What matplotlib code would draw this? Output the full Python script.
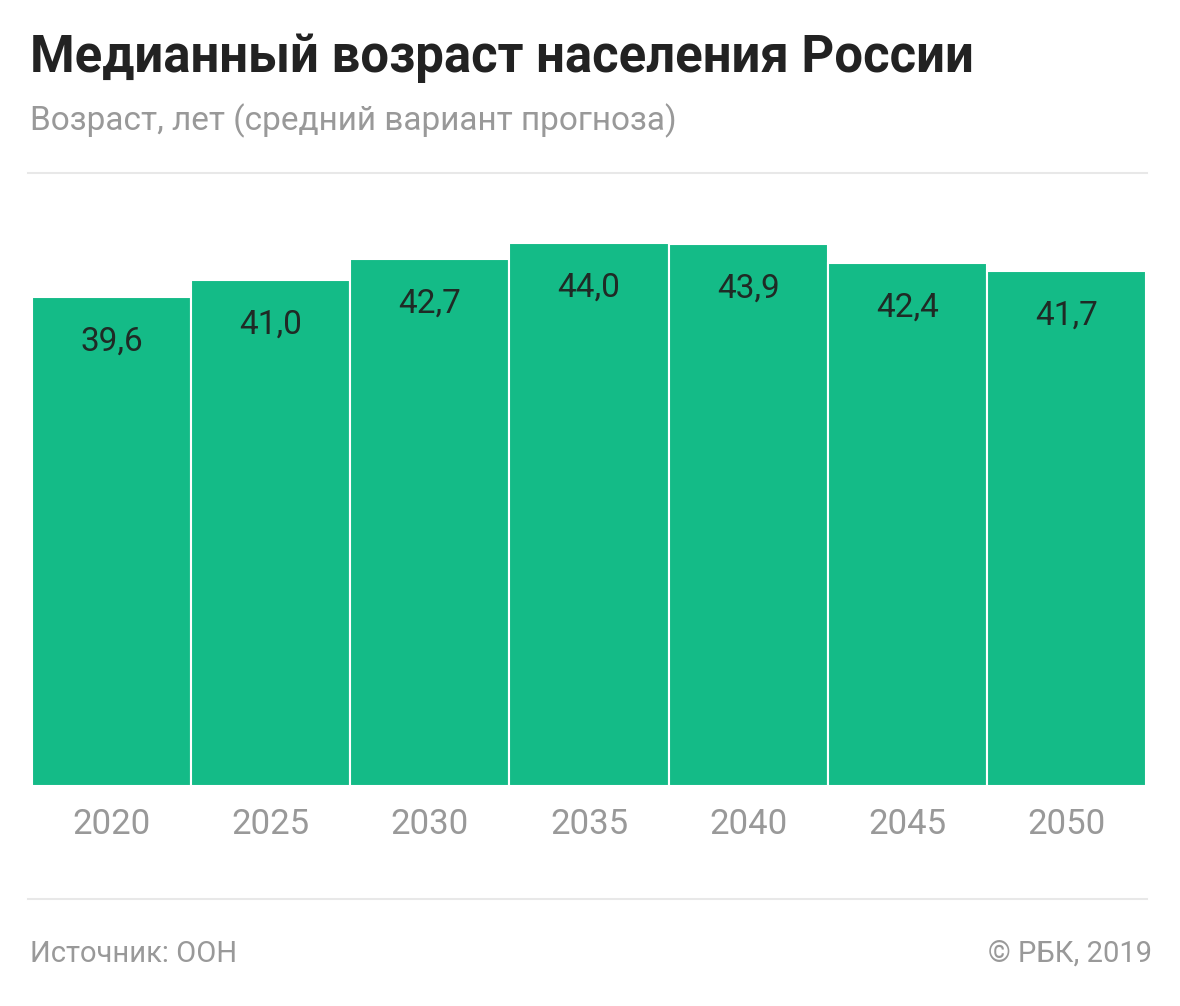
import matplotlib.pyplot as plt
from matplotlib.lines import Line2D

# data
years = ['2020', '2025', '2030', '2035', '2040', '2045', '2050']
median_age = [39.6, 41.0, 42.7, 44.0, 43.9, 42.4, 41.7]
value_labels = ['39,6', '41,0', '42,7', '44,0', '43,9', '42,4', '41,7']

plt.rcParams['font.family'] = ['Roboto', 'DejaVu Sans']

W, H = 1180, 1006
fig = plt.figure(figsize=(W / 100, H / 100), dpi=100)

# axes placed in pixel terms
left, right, bottom, top = 32, 1146, 786, 206
ax = fig.add_axes([left / W, (H - bottom) / H, (right - left) / W, (bottom - top) / H])

x = range(len(years))
ax.bar(x, median_age, width=1.0, color='#14bb87', edgecolor='white', linewidth=1.5)
ax.set_xlim(-0.5, len(years) - 0.5)
ax.set_ylim(0, 47)

for i, (v, lab) in enumerate(zip(median_age, value_labels)):
    ax.annotate(lab, (i, v), xytext=(0, -32), textcoords='offset points',
                ha='center', va='center', fontsize=24, color='#1f2a25')

ax.set_xticks(list(x))
ax.set_xticklabels(years, fontsize=25, color='#999999')
ax.tick_params(axis='x', length=0, pad=16)
ax.set_yticks([])
for s in ax.spines.values():
    s.set_visible(False)

# header / footer
fig.text(30 / W, 1 - 72 / H, 'Медианный возраст населения России', fontsize=36.6,
         fontweight='bold', color='#222222', ha='left', va='baseline')
fig.text(30 / W, 1 - 130 / H, 'Возраст, лет (средний вариант прогноза)', fontsize=24,
         color='#999999', ha='left', va='baseline')
fig.text(30 / W, 1 - 962 / H, 'Источник: ООН', fontsize=21, color='#999999',
         ha='left', va='baseline')
fig.text(1152 / W, 1 - 962 / H, '© РБК, 2019', fontsize=21, color='#999999',
         ha='right', va='baseline')

for yy in (173, 899):
    fig.add_artist(Line2D([28 / W, 1147 / W], [1 - yy / H, 1 - yy / H],
                          color='#e8e8e8', linewidth=1.5))

fig.savefig('out.png', dpi=100, facecolor='white')
